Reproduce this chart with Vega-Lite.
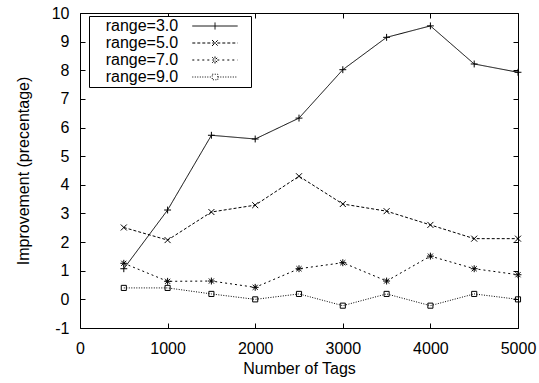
{
  "$schema": "https://vega.github.io/schema/vega-lite/v6.json",
  "width": 438,
  "height": 315,
  "autosize": {"type": "none"},
  "padding": {"left": 80, "top": 13, "right": 21, "bottom": 55},
  "config": {
    "view": {"stroke": "black", "strokeWidth": 1},
    "font": "Liberation Sans",
    "axis": {
      "labelFont": "Liberation Sans",
      "labelFontSize": 16,
      "labelColor": "black",
      "titleFont": "Liberation Sans",
      "titleFontSize": 16,
      "titleFontWeight": "normal",
      "titleColor": "black",
      "tickColor": "black",
      "tickWidth": 1,
      "tickSize": -5,
      "domain": false,
      "grid": false,
      "labelFlush": false,
      "labelExpr": "'' + datum.value"
    }
  },
  "data": {
    "values": [
      {"n": 500, "v": 1.07, "series": "range=3.0"},
      {"n": 1000, "v": 3.12, "series": "range=3.0"},
      {"n": 1500, "v": 5.73, "series": "range=3.0"},
      {"n": 2000, "v": 5.6, "series": "range=3.0"},
      {"n": 2500, "v": 6.33, "series": "range=3.0"},
      {"n": 3000, "v": 8.02, "series": "range=3.0"},
      {"n": 3500, "v": 9.15, "series": "range=3.0"},
      {"n": 4000, "v": 9.55, "series": "range=3.0"},
      {"n": 4500, "v": 8.22, "series": "range=3.0"},
      {"n": 5000, "v": 7.93, "series": "range=3.0"},
      {"n": 500, "v": 2.51, "series": "range=5.0"},
      {"n": 1000, "v": 2.07, "series": "range=5.0"},
      {"n": 1500, "v": 3.05, "series": "range=5.0"},
      {"n": 2000, "v": 3.29, "series": "range=5.0"},
      {"n": 2500, "v": 4.3, "series": "range=5.0"},
      {"n": 3000, "v": 3.33, "series": "range=5.0"},
      {"n": 3500, "v": 3.08, "series": "range=5.0"},
      {"n": 4000, "v": 2.6, "series": "range=5.0"},
      {"n": 4500, "v": 2.12, "series": "range=5.0"},
      {"n": 5000, "v": 2.12, "series": "range=5.0"},
      {"n": 500, "v": 1.26, "series": "range=7.0"},
      {"n": 1000, "v": 0.63, "series": "range=7.0"},
      {"n": 1500, "v": 0.64, "series": "range=7.0"},
      {"n": 2000, "v": 0.42, "series": "range=7.0"},
      {"n": 2500, "v": 1.07, "series": "range=7.0"},
      {"n": 3000, "v": 1.28, "series": "range=7.0"},
      {"n": 3500, "v": 0.64, "series": "range=7.0"},
      {"n": 4000, "v": 1.51, "series": "range=7.0"},
      {"n": 4500, "v": 1.07, "series": "range=7.0"},
      {"n": 5000, "v": 0.86, "series": "range=7.0"},
      {"n": 500, "v": 0.4, "series": "range=9.0"},
      {"n": 1000, "v": 0.4, "series": "range=9.0"},
      {"n": 1500, "v": 0.19, "series": "range=9.0"},
      {"n": 2000, "v": 0.0, "series": "range=9.0"},
      {"n": 2500, "v": 0.19, "series": "range=9.0"},
      {"n": 3000, "v": -0.22, "series": "range=9.0"},
      {"n": 3500, "v": 0.19, "series": "range=9.0"},
      {"n": 4000, "v": -0.22, "series": "range=9.0"},
      {"n": 4500, "v": 0.19, "series": "range=9.0"},
      {"n": 5000, "v": 0.0, "series": "range=9.0"}
    ]
  },
  "layer": [
    {
      "mark": {"type": "line", "color": "black", "strokeWidth": 1},
      "encoding": {
        "x": {
          "field": "n", "type": "quantitative",
          "scale": {"domain": [0, 5000], "nice": false, "zero": false},
          "axis": {"orient": "bottom", "values": [0, 1000, 2000, 3000, 4000, 5000], "labelPadding": 17, "title": "Number of Tags", "titlePadding": 4}
        },
        "y": {
          "field": "v", "type": "quantitative",
          "scale": {"domain": [-1, 10], "nice": false, "zero": false},
          "axis": {"orient": "left", "values": [-1, 0, 1, 2, 3, 4, 5, 6, 7, 8, 9, 10], "labelPadding": 16, "title": "Improvement (precentage)", "titlePadding": 20}
        },
        "strokeDash": {
          "field": "series", "type": "nominal",
          "scale": {"domain": ["range=3.0", "range=5.0", "range=7.0", "range=9.0"], "range": [[1, 0], [3, 2], [2, 3], [1, 1.5]]},
          "legend": {
            "title": null,
            "orient": "none",
            "legendX": 9,
            "legendY": 3,
            "padding": 2,
            "strokeColor": "black",
            "fillColor": "white",
            "rowPadding": 1,
            "symbolType": "stroke",
            "symbolSize": 225,
            "symbolStrokeColor": "black",
            "symbolStrokeWidth": 1,
            "symbolOffset": 0,
            "labelOffset": -1.3,
            "labelAlign": "left",
            "labelFont": "Liberation Sans",
            "labelFontSize": 16,
            "labelColor": "black",
            "encode": {
              "symbols": {
                "update": {
                  "shape": {"signal": "datum.value === 'range=3.0' ? 'M12.44,0L18.49,0M15.47,-0.467L15.47,0.467M19.73,0' : datum.value === 'range=5.0' ? 'M12.44,0L18.49,0M15.07,-0.4L15.87,0.4M15.07,0.4L15.87,-0.4M19.73,0' : datum.value === 'range=7.0' ? 'M12.44,0L18.49,0M15.47,-0.467L15.47,0.467M15.1,-0.37L15.84,0.37M15.1,0.37L15.84,-0.37M19.73,0' : 'M12.44,0L15.1,0M15.84,0L18.49,0M15.1,-0.37L15.84,-0.37L15.84,0.37L15.1,0.37ZM19.73,0'"}
                }
              }
            }
          }
        }
      }
    },
    {
      "transform": [{"filter": "datum.series === 'range=3.0'"}],
      "mark": {"type": "point", "shape": "M-1.15,0L1.15,0M0,-1.15L0,1.15", "filled": false, "stroke": "black", "strokeWidth": 1, "size": 36, "opacity": 1},
      "encoding": {
        "x": {
          "field": "n", "type": "quantitative",
          "scale": {"domain": [0, 5000], "nice": false, "zero": false},
          "axis": {"orient": "top", "values": [0, 1000, 2000, 3000, 4000, 5000], "labels": false, "title": null}
        },
        "y": {
          "field": "v", "type": "quantitative",
          "scale": {"domain": [-1, 10], "nice": false, "zero": false},
          "axis": {"orient": "right", "values": [-1, 0, 1, 2, 3, 4, 5, 6, 7, 8, 9, 10], "labels": false, "title": null}
        }
      }
    },
    {
      "transform": [{"filter": "datum.series === 'range=5.0'"}],
      "mark": {"type": "point", "shape": "M-1,-1L1,1M-1,1L1,-1", "filled": false, "stroke": "black", "strokeWidth": 1, "size": 36, "opacity": 1},
      "encoding": {
        "x": {"field": "n", "type": "quantitative", "axis": null},
        "y": {"field": "v", "type": "quantitative", "axis": null}
      }
    },
    {
      "transform": [{"filter": "datum.series === 'range=7.0'"}],
      "mark": {"type": "point", "shape": "M-1.15,0L1.15,0M0,-1.15L0,1.15M-0.85,-0.85L0.85,0.85M-0.85,0.85L0.85,-0.85", "filled": false, "stroke": "black", "strokeWidth": 1, "size": 36, "opacity": 1},
      "encoding": {
        "x": {"field": "n", "type": "quantitative", "axis": null},
        "y": {"field": "v", "type": "quantitative", "axis": null}
      }
    },
    {
      "transform": [{"filter": "datum.series === 'range=9.0'"}],
      "mark": {"type": "point", "shape": "M-0.85,-0.85L0.85,-0.85L0.85,0.85L-0.85,0.85Z", "filled": false, "stroke": "black", "strokeWidth": 1, "size": 36, "opacity": 1},
      "encoding": {
        "x": {"field": "n", "type": "quantitative", "axis": null},
        "y": {"field": "v", "type": "quantitative", "axis": null}
      }
    }
  ],
  "resolve": {"axis": {"x": "independent", "y": "independent"}}
}
